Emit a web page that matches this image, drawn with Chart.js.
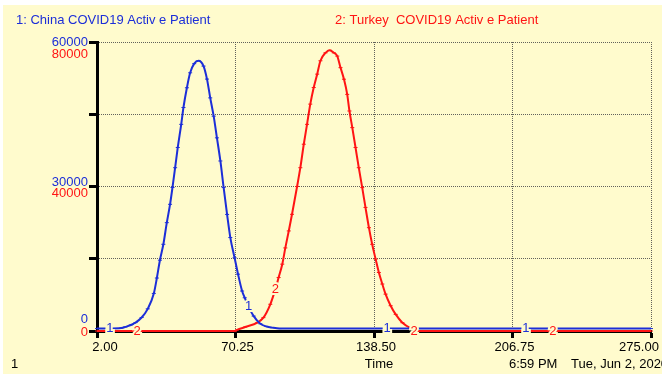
<!DOCTYPE html>
<html><head><meta charset="utf-8">
<script src="https://cdn.jsdelivr.net/npm/chart.js@4.4.0/dist/chart.umd.min.js"></script>
<style>html,body{margin:0;padding:0;background:#fff;}canvas{display:block;}</style>
</head><body>
<canvas id="c" width="662" height="374"></canvas>
<script>
// ---- data ----
const seriesNames = ["1: China COVID19 Activ e Patient", "2: Turkey  COVID19 Activ e Patient"];
const xTickValues = [2, 70.25, 138.5, 206.75, 275];
const chinaAxisLabels = [0, 30000, 60000];
const turkeyAxisLabels = [0, 40000, 80000];

const chinaTime = [2, 8, 14, 16, 19, 21, 24, 27, 30, 31.5, 33, 34.7, 36.4, 38, 39.2, 40.5, 41.8, 43.5, 44.6, 46.3, 47.9, 49.9, 52, 54.5, 56.2, 57.8, 59.5, 61.1, 62.8, 64.4, 66.1, 67.7, 69.8, 71.5, 73.5, 74.8, 76.7, 79.2, 82.5, 85.5, 88.3, 92, 275];
const chinaActive = [500, 500, 600, 850, 1300, 1750, 2800, 4600, 7800, 11000, 14700, 18000, 22500, 26300, 29800, 33900, 38100, 42900, 46400, 50500, 53600, 55500, 56100, 55000, 52300, 48400, 44600, 40100, 35300, 29800, 24200, 19400, 15200, 11800, 8300, 6900, 5000, 3100, 1500, 950, 700, 500, 500];

const turkeyTime = [2, 70, 71, 75, 81, 84, 87.4, 89.9, 91.5, 93.3, 94.8, 96.5, 98.1, 100.6, 102.2, 103.9, 105.5, 107.1, 108.8, 110.5, 112.1, 114.6, 116.7, 118.7, 120.4, 122, 123.7, 125.3, 126.4, 127.8, 129.4, 131, 132.7, 134.3, 136, 137.6, 139.3, 140.9, 142.6, 144.2, 146.7, 149.2, 152.5, 156.6, 160.5, 275];
const turkeyActive = [0, 0, 300, 1100, 2300, 3700, 7400, 11600, 14800, 18500, 23000, 27700, 32300, 40000, 45200, 51700, 57200, 62800, 67400, 71100, 74800, 77000, 77700, 77000, 76100, 72900, 69700, 65500, 60900, 56300, 50800, 45200, 39700, 34200, 28600, 24000, 19900, 16200, 13000, 10200, 7000, 4600, 2300, 800, 0, 0];

const chinaLabelTime = [8.4, 76.7, 145, 213.3];
const chinaLabelValue = [500, 5000, 500, 500];
const turkeyLabelTime = [21.8, 89.9, 158.3, 226.6];
const turkeyLabelValue = [0, 11600, 0, 0];

const footerTexts = ["1", "Time", "6:59 PM", "Tue, Jun 2, 2020"];

// ---- styles ----
const BG = '#fffbcd';
const BLUE = '#1c2ed8';
const RED = '#ff1414';
const FONT = '13px "Liberation Sans", Arial, sans-serif';

function pts(xs, ys){ return xs.map((t,i)=>({x:t, y:ys[i]})); }

const overlay = {
  id: 'overlay',
  beforeDraw(chart){
    const ctx = chart.ctx;
    ctx.save();
    ctx.fillStyle = '#ffffff'; ctx.fillRect(0,0,chart.width,chart.height);
    ctx.fillStyle = BG; ctx.fillRect(3,5,chart.width-3,chart.height-5);
    ctx.restore();
  },
  afterDatasetsDraw(chart){
    const ctx = chart.ctx, x = chart.scales.x, y = chart.scales.y, y2 = chart.scales.y2;
    ctx.save();
    ctx.font = FONT; ctx.textAlign = 'center'; ctx.textBaseline = 'middle';
    const put = (txt, px, py, col) => {
      ctx.lineWidth = 4; ctx.strokeStyle = BG; ctx.strokeText(txt, px, py);
      ctx.fillStyle = col; ctx.fillText(txt, px, py);
    };
    turkeyLabelTime.forEach((t,i)=>put('2', x.getPixelForValue(t), y2.getPixelForValue(turkeyLabelValue[i]), RED));
    chinaLabelTime.forEach((t,i)=>put('1', x.getPixelForValue(t), y.getPixelForValue(chinaLabelValue[i]) , BLUE));
    ctx.restore();
  },
  afterDraw(chart){
    const ctx = chart.ctx, x = chart.scales.x, y = chart.scales.y, y2 = chart.scales.y2;
    ctx.save();
    ctx.font = FONT; ctx.textBaseline = 'middle';
    // y tick labels (two scales sharing the left axis)
    ctx.textAlign = 'right';
    const blueOff = [-12, -4, 0], redOff = [1, 7, 12];
    chinaAxisLabels.forEach((v,i)=>{ ctx.fillStyle = BLUE; ctx.fillText(String(v), 88, y.getPixelForValue(v)+blueOff[i]); });
    turkeyAxisLabels.forEach((v,i)=>{ ctx.fillStyle = RED; ctx.fillText(String(v), 88, y2.getPixelForValue(v)+redOff[i]); });
    // x tick labels
    ctx.textAlign = 'center'; ctx.fillStyle = '#000';
    const xOff = [8, 2, 2, 2, -12];
    x.ticks.forEach((tk,i)=>ctx.fillText(tk.value.toFixed(2), x.getPixelForValue(tk.value)+xOff[i], 347));
    // titles
    ctx.textAlign = 'left';
    ctx.fillStyle = BLUE; ctx.fillText(seriesNames[0], 16, 20);
    ctx.fillStyle = RED; ctx.fillText(seriesNames[1], 335, 20);
    // footer
    ctx.fillStyle = '#000';
    ctx.fillText(footerTexts[0], 11, 364);
    ctx.textAlign = 'center'; ctx.fillText(footerTexts[1], 379, 364);
    ctx.textAlign = 'left'; ctx.fillText(footerTexts[2], 509, 364);
    ctx.fillText(footerTexts[3], 571, 364);
    ctx.restore();
  }
};

new Chart(document.getElementById('c'), {
  type: 'line',
  data: {
    datasets: [
      { label: seriesNames[0], data: pts(chinaTime, chinaActive), yAxisID: 'y',
        borderColor: BLUE, backgroundColor: BLUE, borderWidth: 2,
        pointStyle: 'line', pointRadius: 2, pointBorderWidth: 1, pointBorderColor: BLUE,
        cubicInterpolationMode: 'monotone', clip: false },
      { label: seriesNames[1], data: pts(turkeyTime, turkeyActive), yAxisID: 'y2',
        borderColor: RED, backgroundColor: RED, borderWidth: 2,
        pointStyle: 'line', pointRadius: 2, pointBorderWidth: 1, pointBorderColor: RED,
        cubicInterpolationMode: 'monotone', clip: false }
    ]
  },
  options: {
    responsive: false, animation: false, devicePixelRatio: 1,
    layout: { padding: { top: 42, right: 11, left: 0, bottom: 0 } },
    plugins: { legend: { display: false }, tooltip: { enabled: false }, title: { display: false } },
    scales: {
      x: { type: 'linear', min: 2, max: 275,
        afterBuildTicks: s => { s.ticks = xTickValues.map(v => ({ value: v })); },
        afterFit: s => { s.height = 43; },
        ticks: { display: false },
        grid: { color: 'rgba(70,70,70,0.85)', lineWidth: 1, tickColor: '#000', tickWidth: 3, tickLength: 7 },
        border: { color: '#000', width: 3, dash: [1, 1] } },
      y: { type: 'linear', position: 'left', min: 0, max: 60000,
        ticks: { display: false, stepSize: 15000 },
        afterFit: s => { s.width = 97; },
        grid: { color: 'rgba(70,70,70,0.85)', lineWidth: 1, tickColor: '#000', tickWidth: 3, tickLength: 8 },
        border: { color: '#000', width: 3, dash: [1, 1] } },
      y2: { type: 'linear', display: false, min: 0, max: 80000 }
    }
  },
  plugins: [overlay]
});
</script>
</body></html>
